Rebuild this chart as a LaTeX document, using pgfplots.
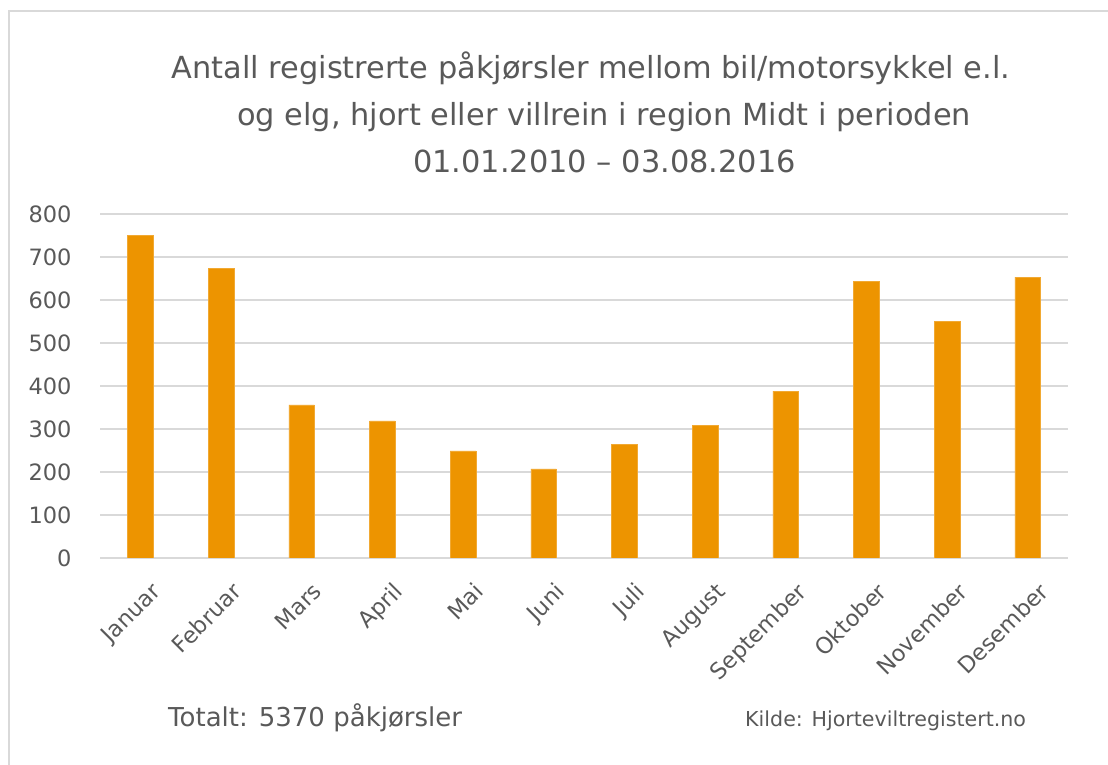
\documentclass[border=0pt]{standalone}
\usepackage{fontspec}
\setmainfont{DejaVu Sans}
\usepackage{pgfplots}
\pgfplotsset{compat=1.18}
\definecolor{barc}{HTML}{ED9400}
\definecolor{txt}{HTML}{595959}
\definecolor{gridc}{HTML}{D9D9D9}
\begin{document}
\begin{tikzpicture}[x=1pt,y=1pt]
\path[use as bounding box] (0,0) rectangle (1108,765);
\draw[gridc, line width=2.5pt] (9,0) -- (9,754) -- (1108,754);
\begin{axis}[
  at={(100pt,207pt)}, anchor=south west,
  scale only axis, width=968pt, height=344pt,
  xmin=-0.5, xmax=11.5, ymin=0, ymax=800,
  ytick={0,100,...,800},
  xtick={0,...,11},
  xticklabels={Januar,Februar,Mars,April,Mai,Juni,Juli,August,September,Oktober,November,Desember},
  axis x line*=bottom, axis y line*=left,
  x axis line style={gridc, line width=1.5pt, -},
  y axis line style={draw=none},
  major tick length=0pt,
  ymajorgrids, grid style={gridc, line width=1.5pt},
  yticklabel style={font=\fontsize{22.5}{27}\selectfont, text=txt, xshift=-25pt},
  xticklabel style={font=\fontsize{22.5}{27}\selectfont, text=txt, rotate=45, anchor=north east, yshift=-20pt, xshift=-6pt},
  /pgf/number format/assume math mode=true,
  ybar, bar width=25.6pt,
]
\addplot[fill=barc, draw=barc!80!white, line width=0.6pt] coordinates {
(0,751) (1,674) (2,356) (3,319) (4,249) (5,207) (6,265) (7,308) (8,388) (9,643) (10,550) (11,653)
};
\end{axis}
\begin{scope}[every node/.style={text=txt, inner sep=0pt}]
\node[anchor=base, font=\fontsize{30.4}{36}\selectfont] at (591,686) {Antall registrerte påkjørsler mellom bil/motorsykkel e.l.};
\node[anchor=base, font=\fontsize{30.4}{36}\selectfont] at (604,639) {og elg, hjort eller villrein i region Midt i perioden};
\node[anchor=base, font=\fontsize{30.4}{36}\selectfont] at (604.5,592) {01.01.2010 – 03.08.2016};
\node[anchor=base west, font=\fontsize{26}{31}\selectfont] at (168,38) {Totalt: 5370 påkjørsler};
\node[anchor=base west, font=\fontsize{20.6}{25}\selectfont] at (745,38) {Kilde: Hjorteviltregistert.no};
\end{scope}
\end{tikzpicture}
\end{document}
